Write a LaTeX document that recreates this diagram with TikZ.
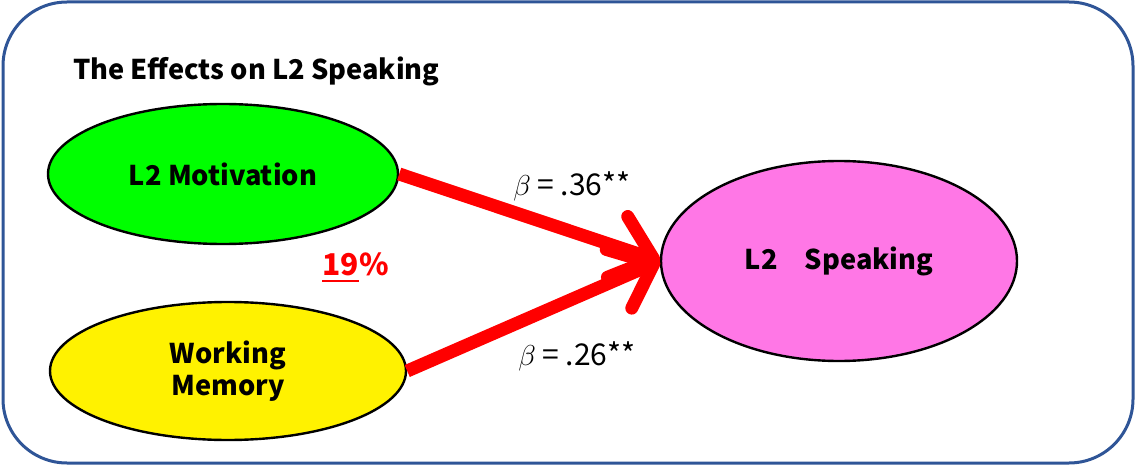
\documentclass[tikz,border=0pt]{standalone}
\usepackage{fontspec}
\setmainfont{Noto Sans CJK JP}
\usepackage{amsmath}
\usetikzlibrary{shapes.geometric, arrows.meta}
\definecolor{frameblue}{RGB}{47,85,151}
\definecolor{pinkfill}{RGB}{255,119,230}

\begin{document}
\begin{tikzpicture}[x=0.5pt, y=-0.5pt,
    var/.style={ellipse, draw=black, line width=1.2pt, inner sep=0pt, align=center,
        font=\fontsize{13.6}{16}\selectfont\bfseries},
    path arrow/.style={draw=red, line width=6.5pt,
        -{Straight Barb[length=19pt, width=32pt, round]}},
    coef/.style={font=\fontsize{15}{18}\selectfont},
    share/.style={red, inner sep=0pt, font=\fontsize{15}{18}\selectfont\bfseries}]
    \useasboundingbox (0,0) rectangle (1135,465);
    % Outer frame
    \draw[frameblue, line width=1.5pt, rounded corners=32pt] (3,2) rectangle (1133,463);
    \node[anchor=base west, font=\fontsize{13.6}{16}\selectfont\bfseries] (title) at (66,80) {The Effects on L2 Speaking};
    
    % Predictors and outcome
    \node[var, fill=green, minimum width=175pt, minimum height=70pt] (mot) at (223,174) {L2 Motivation};
    \node[var, fill=yellow, minimum width=178pt, minimum height=69pt] (wm) at (228,371) {Working\\Memory};
    \node[var, fill=pinkfill, minimum width=178pt, minimum height=100pt] (spk) at (839,261) {L2　Speaking};
    
    \draw[path arrow] (mot.east) -- (spk.west);
    \draw[path arrow] (wm.east) -- (spk.west);
    
    \node[coef] (b1) at (572,186) {$\beta$ = .36**};
    \node[coef] (b2) at (577,356) {$\beta$ = .26**};
    
    % Explained variance
    \node[share, anchor=base west] (r2) at (322,275) {19};
    \node[share, anchor=base west] (pct) at (r2.base east) {\%};
    \draw[red, line width=1.3pt] ([yshift=-3pt]r2.base west) -- ([yshift=-3pt]r2.base east);
\end{tikzpicture}
\end{document}
